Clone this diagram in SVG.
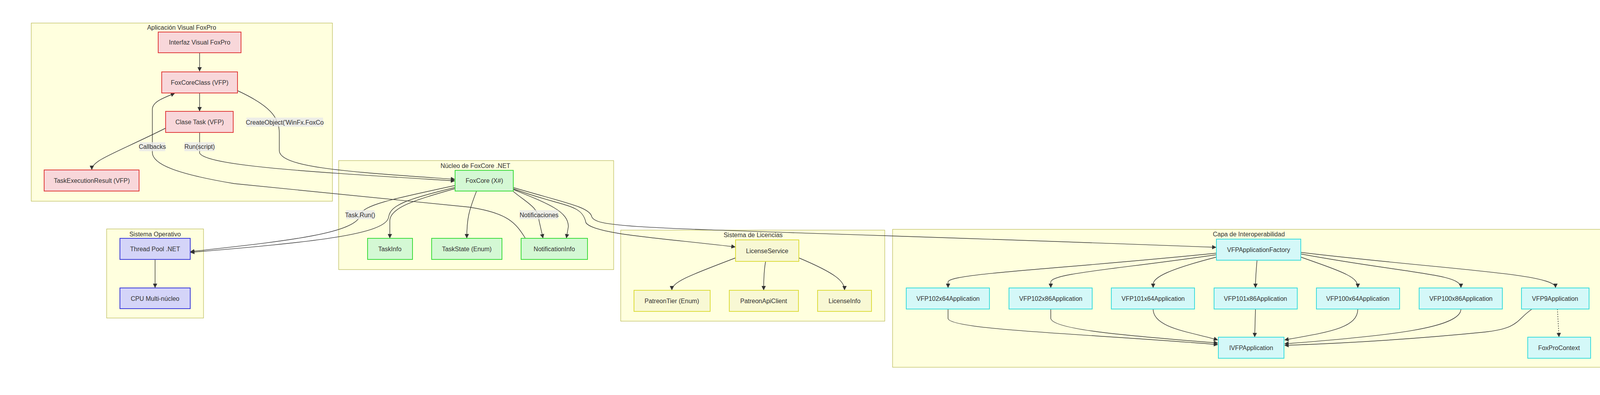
<svg xmlns="http://www.w3.org/2000/svg" width="4162" height="1011" viewBox="0 0 4162 1011">
<defs>
<marker id="ah" viewBox="0 0 10 10" refX="9" refY="5" markerWidth="11" markerHeight="11" orient="auto-start-reverse" markerUnits="userSpaceOnUse"><path d="M0,0 L10,5 L0,10 z" fill="#333"/></marker>
<style>
text{font-family:"Liberation Sans",Arial,sans-serif;font-size:16px;fill:#333;text-anchor:middle;dominant-baseline:central}
.cl{fill:#ffffde;stroke:#aaaa33;stroke-width:1}
.r{fill:#f8d7da;stroke:#e03c3c;stroke-width:2}
.g{fill:#d4f8d4;stroke:#3cdc3c;stroke-width:2}
.b{fill:#d4d4f8;stroke:#3c3cdc;stroke-width:2}
.y{fill:#f8f8d4;stroke:#dcdc3c;stroke-width:2}
.c{fill:#d4f8f8;stroke:#3cdcdc;stroke-width:2}
.e{fill:none;stroke:#333;stroke-width:1.4;marker-end:url(#ah)}
.d{stroke-dasharray:3 3}
.lb{fill:#e8e8e8;opacity:0.8}
</style>
</defs>
<rect width="4162" height="1011" fill="#fff"/>
<g id="clusters">
<rect class="cl" x="80" y="59" width="771" height="456"/><text x="465" y="70">Aplicación Visual FoxPro</text>
<rect class="cl" x="867" y="411" width="704" height="279"/><text x="1217" y="424">Núcleo de FoxCore .NET</text>
<rect class="cl" x="273" y="586" width="248" height="228"/><text x="397" y="599">Sistema Operativo</text>
<rect class="cl" x="1589" y="589" width="676" height="233"/><text x="1928" y="601">Sistema de Licencias</text>
<rect class="cl" x="2285" y="587" width="1824" height="353"/><text x="3197" y="599">Capa de Interoperabilidad</text>
</g>
<g id="connectors">
<path class="e" d="M511,135 L511,182"/>
<path class="e" d="M511,238 L511,284"/>
<path class="e" d="M424,328 C300,390 235,410 235,434"/>
<path class="e" d="M608,232 C690,270 715,300 715,340 L715,385 C715,430 900,440 1164,459"/>
<path class="e" d="M511,339 L511,392 C530,425 800,440 1164,463"/>
<path class="e" d="M1345,610 C1320,570 1300,545 1200,530 L600,470 C450,445 390,420 390,390 L390,280 C390,260 420,250 447,239"/>
<path class="e" d="M1164,475 C1000,510 930,525 922,550 C915,600 700,620 488,644"/>
<path class="e" d="M1164,480 C1040,510 1000,525 995,555 C990,600 800,620 488,646"/>
<path class="e" d="M1164,483 C1070,510 998,530 998,565 L998,609"/>
<path class="e" d="M1220,489 C1200,540 1195,560 1195,609"/>
<path class="e" d="M1314,490 C1350,520 1378,530 1380,565 L1390,609"/>
<path class="e" d="M1314,485 C1400,520 1455,540 1455,580 L1450,609"/>
<path class="e" d="M1314,483 C1440,530 1490,520 1500,570 C1520,600 1700,610 1882,632"/>
<path class="e" d="M1314,480 C1450,520 1510,530 1515,555 C1530,590 1700,580 3113,633"/>
<path class="e" d="M397,664 L397,736"/>
<path class="e" d="M1883,660 C1780,700 1720,720 1720,742"/>
<path class="e" d="M1960,669 C1956,690 1955,720 1955,742"/>
<path class="e" d="M2045,660 C2140,700 2162,720 2162,742"/>
<path class="e" d="M3114,648 C2700,690 2427,700 2427,722 L2427,736"/>
<path class="e" d="M3114,652 C2850,690 2690,700 2690,722 L2690,736"/>
<path class="e" d="M3114,658 C2990,690 2952,710 2952,728 L2952,736"/>
<path class="e" d="M3218,666 C3215,700 3214,720 3214,736"/>
<path class="e" d="M3330,658 C3450,700 3476,710 3476,736"/>
<path class="e" d="M3330,650 C3600,700 3740,700 3740,736"/>
<path class="e" d="M3330,646 C3700,690 3982,700 3982,736"/>
<path class="e" d="M2427,791 L2427,815 C2430,845 2800,855 3117,882"/>
<path class="e" d="M2690,791 L2690,815 C2695,845 2900,860 3117,878"/>
<path class="e" d="M2952,791 C2952,840 3050,850 3117,870"/>
<path class="e" d="M3214,791 L3212,862"/>
<path class="e" d="M3476,791 C3476,840 3400,850 3289,870"/>
<path class="e" d="M3740,791 C3740,840 3550,860 3289,880"/>
<path class="e" d="M3922,791 C3880,820 3890,840 3800,850 C3600,870 3400,880 3289,884"/>
<path class="e d" d="M3987,791 L3991,862"/>
</g>
<g id="edge-labels">
<rect class="lb" x="631" y="301" width="196" height="23"/><text x="729" y="313">CreateObject('WinFx.FoxCo</text>
<rect class="lb" x="357" y="364" width="66" height="23"/><text x="390" y="375">Callbacks</text>
<rect class="lb" x="472" y="364" width="77" height="23"/><text x="511" y="375">Run(script)</text>
<rect class="lb" x="886" y="538" width="73" height="23"/><text x="922" y="550">Task.Run()</text>
<rect class="lb" x="1330" y="538" width="99" height="23"/><text x="1380" y="550">Notificaciones</text>
</g>
<g id="n-interfaz"><rect class="r" x="405" y="82" width="212" height="53"/><text x="511" y="108">Interfaz Visual FoxPro</text></g>
<g id="n-foxcoreclass"><rect class="r" x="414" y="184" width="194" height="54"/><text x="511" y="211">FoxCoreClass (VFP)</text></g>
<g id="n-clasetask"><rect class="r" x="424" y="285" width="173" height="54"/><text x="511" y="312">Clase Task (VFP)</text></g>
<g id="n-taskresult"><rect class="r" x="113" y="435" width="243" height="54"/><text x="235" y="462">TaskExecutionResult (VFP)</text></g>
<g id="n-foxcore"><rect class="g" x="1165" y="436" width="149" height="53"/><text x="1240" y="462">FoxCore (X#)</text></g>
<g id="n-taskinfo"><rect class="g" x="941" y="610" width="115" height="54"/><text x="998" y="637">TaskInfo</text></g>
<g id="n-taskstate"><rect class="g" x="1105" y="610" width="180" height="54"/><text x="1195" y="637">TaskState (Enum)</text></g>
<g id="n-notifinfo"><rect class="g" x="1334" y="610" width="170" height="54"/><text x="1419" y="637">NotificationInfo</text></g>
<g id="n-threadpool"><rect class="b" x="307" y="610" width="180" height="54"/><text x="397" y="637">Thread Pool .NET</text></g>
<g id="n-cpu"><rect class="b" x="307" y="737" width="180" height="53"/><text x="397" y="764">CPU Multi-núcleo</text></g>
<g id="n-licenseservice"><rect class="y" x="1883" y="614" width="162" height="55"/><text x="1964" y="642">LicenseService</text></g>
<g id="n-patreontier"><rect class="y" x="1623" y="743" width="195" height="54"/><text x="1720" y="770">PatreonTier (Enum)</text></g>
<g id="n-patreonapi"><rect class="y" x="1867" y="743" width="177" height="54"/><text x="1955" y="770">PatreonApiClient</text></g>
<g id="n-licenseinfo"><rect class="y" x="2093" y="743" width="138" height="54"/><text x="2162" y="770">LicenseInfo</text></g>
<g id="n-factory"><rect class="c" x="3114" y="612" width="216" height="54"/><text x="3222" y="639">VFPApplicationFactory</text></g>
<g id="n-vfp102x64"><rect class="c" x="2320" y="737" width="213" height="54"/><text x="2427" y="764">VFP102x64Application</text></g>
<g id="n-vfp102x86"><rect class="c" x="2583" y="737" width="213" height="54"/><text x="2690" y="764">VFP102x86Application</text></g>
<g id="n-vfp101x64"><rect class="c" x="2845" y="737" width="213" height="54"/><text x="2952" y="764">VFP101x64Application</text></g>
<g id="n-vfp101x86"><rect class="c" x="3108" y="737" width="213" height="54"/><text x="3214" y="764">VFP101x86Application</text></g>
<g id="n-vfp100x64"><rect class="c" x="3370" y="737" width="213" height="54"/><text x="3476" y="764">VFP100x64Application</text></g>
<g id="n-vfp100x86"><rect class="c" x="3633" y="737" width="213" height="54"/><text x="3740" y="764">VFP100x86Application</text></g>
<g id="n-vfp9"><rect class="c" x="3895" y="737" width="173" height="54"/><text x="3981" y="764">VFP9Application</text></g>
<g id="n-ivfp"><rect class="c" x="3119" y="863" width="168" height="54"/><text x="3203" y="890">IVFPApplication</text></g>
<g id="n-foxprocontext"><rect class="c" x="3911" y="863" width="161" height="54"/><text x="3991" y="890">FoxProContext</text></g>
</svg>
